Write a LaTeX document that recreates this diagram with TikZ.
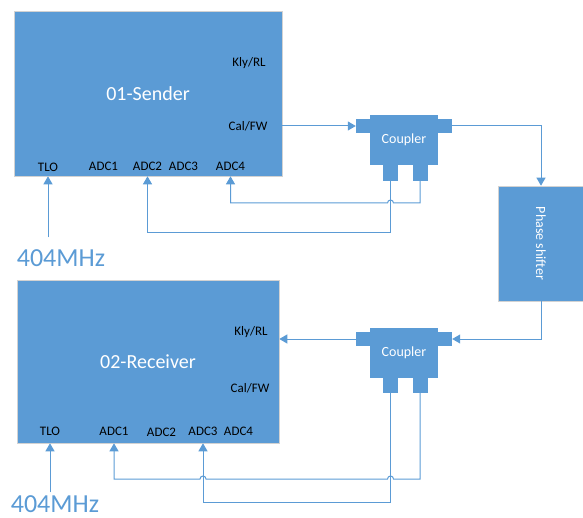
\documentclass[tikz,border=0pt]{standalone}
\usepackage{fontspec}
\setmainfont{Carlito}
\usetikzlibrary{arrows.meta,calc}
\definecolor{boxblue}{HTML}{5B9BD5}

\begin{document}
\begin{tikzpicture}[x=1pt, y=1pt, >={Triangle[width=9pt,length=8pt]},
  unit/.style={draw=gray!35, line width=0.6pt, fill=boxblue, text=white, inner sep=0pt, font=\fontsize{20}{24}\selectfont},
  part/.style={fill=boxblue, inner sep=0pt},
  partlabel/.style={text=white, inner sep=0pt, font=\fontsize{14}{16}\selectfont},
  pin/.style={inner sep=0pt, font=\fontsize{13}{15}\selectfont},
  freq/.style={text=boxblue, inner sep=0pt, font=\fontsize{26}{30}\selectfont},
  wire/.style={draw=boxblue, line width=1pt}]
\path[use as bounding box] (0,0) rectangle (583,-518);
\node[unit, minimum width=268pt, minimum height=165pt] (S) at (148,-93.5) {01-Sender};
\node[pin] (sKly) at (249,-63) {Kly/RL};
\node[pin] (sCal) at (248,-126) {Cal/FW};
\node[pin] (sTLO) at (48,-167) {TLO};
\node[pin] (sA1) at (103.5,-166) {ADC1};
\node[pin] (sA2) at (147.5,-166) {ADC2};
\node[pin] (sA3) at (183.5,-166) {ADC3};
\node[pin] (sA4) at (230.5,-166) {ADC4};
\node[unit, minimum width=262pt, minimum height=163pt] (R) at (148,-361.5) {02-Receiver};
\node[pin] (rKly) at (251,-332) {Kly/RL};
\node[pin] (rCal) at (250,-388) {Cal/FW};
\node[pin] (rTLO) at (50,-431) {TLO};
\node[pin] (rA1) at (114,-431) {ADC1};
\node[pin] (rA2) at (161.5,-432) {ADC2};
\node[pin] (rA3) at (203,-431) {ADC3};
\node[pin] (rA4) at (238.5,-431) {ADC4};
\node[freq] (f1) at (61,-258) {404MHz};
\node[freq] (f2) at (55,-504) {404MHz};
\node[part, minimum width=68pt, minimum height=50pt] (C1) at (404,-140) {};
\node[partlabel] (C1t) at (C1) {Coupler};
\node[part, minimum size=14pt] (cL1) at (363,-126) {};
\node[part, minimum size=14pt] (cR1) at (445,-126) {};
\node[part, minimum width=15pt, minimum height=16pt] (pL1) at (390.5,-173) {};
\node[part, minimum width=15pt, minimum height=16pt] (pR1) at (420,-173) {};
\node[part, minimum width=68pt, minimum height=50pt] (C2) at (404,-353) {};
\node[partlabel] (C2t) at (C2) {Coupler};
\node[part, minimum size=14pt] (cL2) at (363,-339) {};
\node[part, minimum size=14pt] (cR2) at (445,-339) {};
\node[part, minimum width=15pt, minimum height=15pt] (pL2) at (390.5,-385.5) {};
\node[part, minimum width=15pt, minimum height=15pt] (pR2) at (420,-385.5) {};
\node[part, draw=gray!35, line width=0.6pt, minimum width=86pt, minimum height=115pt] (PS) at (541,-243.5) {};
\node[partlabel, rotate=-90] (PSt) at (PS) {Phase shifter};
\coordinate (rowA) at (0,-203);
\coordinate (rowB) at (0,-233);
\coordinate (rowC) at (0,-479);
\coordinate (rowD) at (0,-502);
\draw[wire,->] (cL1.west -| S.east) -- (cL1.west);
\draw[wire,->] (cR1.east) -| (PS.north);
\draw[wire,->] (PS.south) |- (cR2.east);
\draw[wire,->] (cL2.west) -- (cL2.west -| R.east);
\draw[wire,->] ($(sTLO |- f1.north)+(0,12)$) -- (sTLO |- S.south);
\draw[wire,->] ($(rTLO |- f2.north)+(0,3)$) -- (rTLO |- R.south);
\draw[wire,->] (pR1.south) -- (pR1.south |- rowA) -- ($(pL1.south |- rowA)+(3,0)$) arc[start angle=0, end angle=180, radius=3] -- (sA4 |- rowA) -- (sA4 |- S.south);
\draw[wire,->] (pL1.south) -- (pL1.south |- rowB) -- (sA2 |- rowB) -- (sA2 |- S.south);
\draw[wire,->] (pR2.south) -- (pR2.south |- rowC) -- ($(pL2.south |- rowC)+(3,0)$) arc[start angle=0, end angle=180, radius=3] -- ($(rA3 |- rowC)+(3,0)$) arc[start angle=0, end angle=180, radius=3] -- (rA1 |- rowC) -- (rA1 |- R.south);
\draw[wire,->] (pL2.south) -- (pL2.south |- rowD) -- (rA3 |- rowD) -- (rA3 |- R.south);
\end{tikzpicture}
\end{document}
